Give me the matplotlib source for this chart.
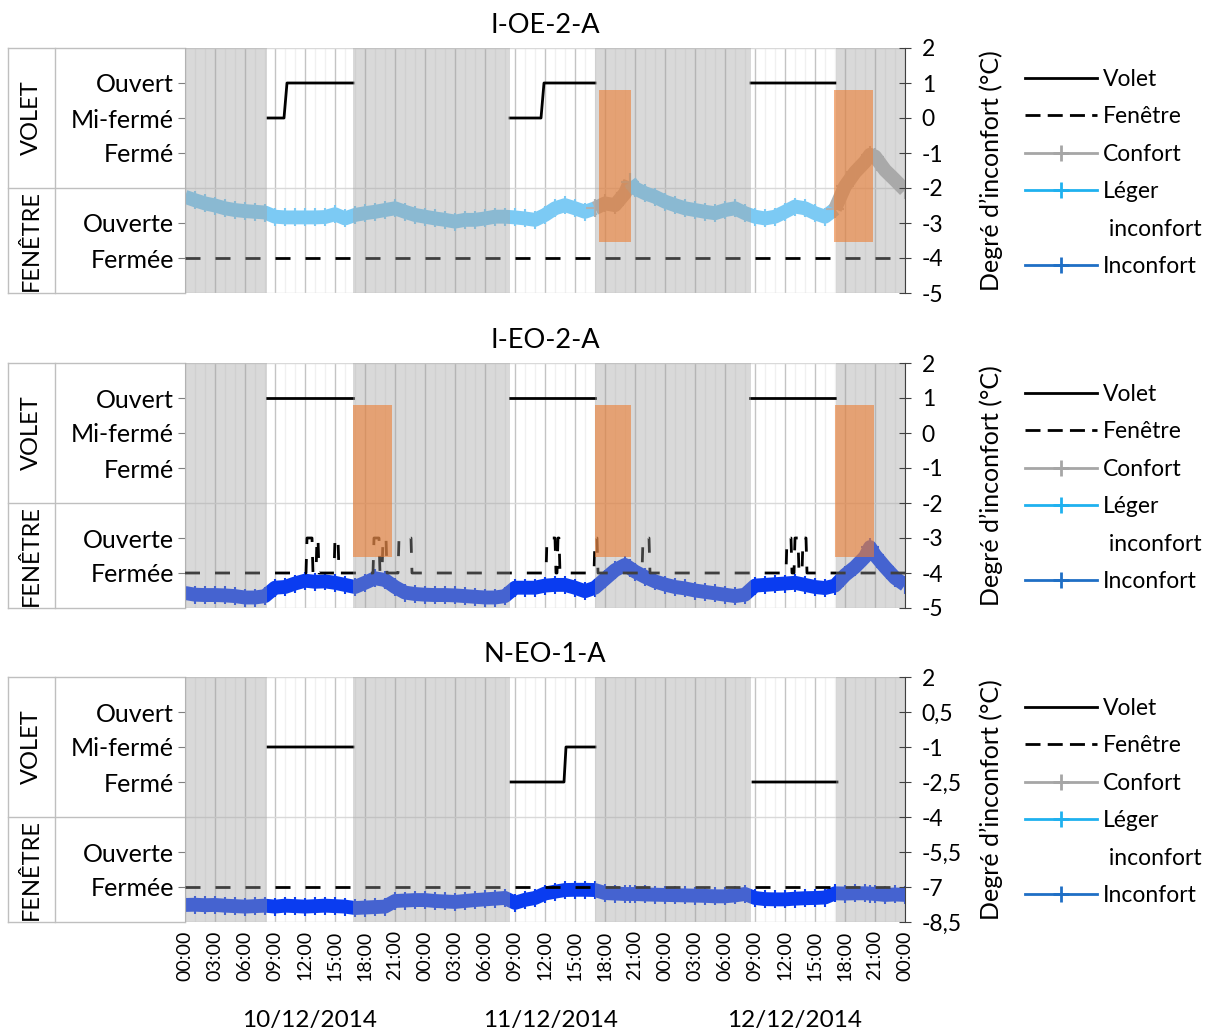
import matplotlib.pyplot as plt
from matplotlib.lines import Line2D
from matplotlib.ticker import MultipleLocator
import numpy as np

plt.rcParams['font.family'] = ['Lato', 'DejaVu Sans']

# heures depuis le 10/12/2014 00:00
hours = list(range(0, 45)) + [44.5] + list(range(45, 69)) + [68.5] + list(range(69, 73))

# ---- I-OE-2-A ----
temp_oe2a = [-2.25, -2.35, -2.44, -2.50, -2.58, -2.63, -2.66, -2.68, -2.70, -2.82,
             -2.84, -2.84, -2.84, -2.84, -2.83, -2.75, -2.87, -2.77, -2.72, -2.68,
             -2.63, -2.58, -2.68, -2.77, -2.82, -2.87, -2.91, -2.96, -2.91, -2.91,
             -2.87, -2.82, -2.82, -2.84, -2.87, -2.91, -2.77, -2.58, -2.49, -2.58,
             -2.68, -2.58, -2.44, -2.49, -2.15, -1.82,
             -2.01, -2.15, -2.25, -2.39, -2.49, -2.58, -2.63, -2.68, -2.72, -2.63,
             -2.58, -2.72, -2.82, -2.87, -2.82, -2.68, -2.53, -2.58, -2.72, -2.82,
             -2.60, -1.95, -1.55, -1.25, -1.05,
             -1.10, -1.49, -1.77, -2.06]
seg_oe2a = [(0, 41, 'leger'), (41, 44.5, 'confort'), (44.5, 65, 'leger'), (65, 72, 'confort')]
volet_t_oe2a = [8.3, 9.9, 10.2, 16.8, np.nan, 32.5, 35.6, 35.9, 41.0, np.nan, 56.6, 65.0]
volet_v_oe2a = [0, 0, 1, 1, np.nan, 0, 0, 1, 1, np.nan, 1, 1]
open_start_oe2a = []
open_end_oe2a = []
evt_start_oe2a = [41.4, 64.9]
evt_end_oe2a = [44.6, 68.8]

# ---- I-EO-2-A ----
temp_eo2a = [-4.57, -4.62, -4.63, -4.63, -4.64, -4.66, -4.70, -4.70, -4.66, -4.42,
             -4.40, -4.30, -4.22, -4.25, -4.24, -4.28, -4.34, -4.40, -4.28, -4.15,
             -4.20, -4.40, -4.56, -4.60, -4.62, -4.63, -4.63, -4.64, -4.66, -4.68,
             -4.70, -4.70, -4.66, -4.42, -4.42, -4.42, -4.36, -4.34, -4.34, -4.42,
             -4.52, -4.42, -4.17, -3.92, -3.77, -3.86,
             -3.96, -4.11, -4.24, -4.33, -4.40, -4.44, -4.50, -4.54, -4.58, -4.62,
             -4.66, -4.62, -4.36, -4.34, -4.32, -4.30, -4.28, -4.34, -4.40, -4.43,
             -4.36, -4.06, -3.83, -3.54, -3.26,
             -3.49, -3.83, -4.14, -4.34]
seg_eo2a = [(0, 72, 'inconfort')]
volet_t_eo2a = [8.2, 16.8, np.nan, 32.5, 41.0, np.nan, 56.5, 65.0]
volet_v_eo2a = [1, 1, np.nan, 1, 1, np.nan, 1, 1]
open_start_eo2a = [12.1, 13.1, 14.9, 18.8, 19.7, 21.3, 36.1, 37.2, 40.9, 45.7, 60.1, 60.9, 61.7]
open_end_eo2a = [12.7, 13.3, 15.3, 19.4, 20.1, 22.6, 37.0, 37.4, 41.2, 46.4, 60.6, 61.3, 62.1]
evt_start_eo2a = [16.8, 41.0, 65.0]
evt_end_eo2a = [20.7, 44.6, 68.9]

# ---- N-EO-1-A ----
temp_neo1a = [-7.77, -7.76, -7.78, -7.77, -7.80, -7.82, -7.84, -7.82, -7.80, -7.84,
              -7.80, -7.82, -7.84, -7.82, -7.80, -7.82, -7.84, -7.90, -7.88, -7.86,
              -7.84, -7.60, -7.58, -7.56, -7.56, -7.60, -7.62, -7.64, -7.60, -7.56,
              -7.53, -7.50, -7.47, -7.68, -7.55, -7.47, -7.28, -7.20, -7.13, -7.12,
              -7.12, -7.13, -7.26, -7.28, -7.30, -7.30,
              -7.30, -7.32, -7.33, -7.34, -7.35, -7.36, -7.37, -7.38, -7.40, -7.40,
              -7.36, -7.30, -7.47, -7.52, -7.53, -7.53, -7.50, -7.48, -7.47, -7.45,
              -7.27, -7.28, -7.27, -7.27, -7.28,
              -7.30, -7.34, -7.32, -7.34]
seg_neo1a = [(0, 72, 'inconfort')]
volet_t_neo1a = [8.3, 16.8, np.nan, 32.6, 37.9, 38.1, 41.0, np.nan, 56.8, 65.2]
volet_v_neo1a = [-1, -1, np.nan, -2.5, -2.5, -1, -1, np.nan, -2.5, -2.5]
open_start_neo1a = []
open_end_neo1a = []
evt_start_neo1a = []
evt_end_neo1a = []

night_start = [0, 16.8, 41.0, 65.1]
night_end = [8.2, 32.5, 56.6, 72]

ticks_a = [2, 1, 0, -1, -2, -3, -4, -5]
ticklab_a = ['2', '1', '0', '-1', '-2', '-3', '-4', '-5']
ticks_b = [2, 0.5, -1, -2.5, -4, -5.5, -7, -8.5]
ticklab_b = ['2', '0,5', '-1', '-2,5', '-4', '-5,5', '-7', '-8,5']

cat_labels = ['Ouvert', 'Mi-fermé', 'Fermé', 'Ouverte', 'Fermée']
cat_pos_a = [1, 0, -1, -3, -4]
cat_pos_b = [0.5, -1, -2.5, -5.5, -7]

xlabels = ['%02d:00' % (h % 24) for h in range(0, 73, 3)]
dates = ['10/12/2014', '11/12/2014', '12/12/2014']
date_pos = [12.5, 36.6, 61.0]

colors = {'confort': '#b0b0b0', 'leger': '#7ccaf4', 'inconfort': '#0a3cf0'}

fig = plt.figure(figsize=(12.07, 10.34), dpi=100)


def panel(bottom, title, ylim, ticks, ticklab, cat_pos, split, window_level,
          temp, segs, vt, vv, o_start, o_end, e_start, e_end, last=False):
    ax = fig.add_axes([185 / 1207, bottom, 720 / 1207, 245 / 1034])
    ax.set_xlim(0, 72)
    ax.set_ylim(*ylim)

    # bande de température (degré d'inconfort)
    for a, b, c in segs:
        hh = [h for h in hours if a <= h <= b]
        vv_ = [temp[i] for i, h in enumerate(hours) if a <= h <= b]
        ax.plot(hh, vv_, color=colors[c], lw=10, solid_capstyle='butt',
                marker='+', ms=13, mew=1.5, zorder=2)

    # fenêtre
    wt = [0]
    wv = [window_level]
    for s, e in zip(o_start, o_end):
        wt += [s, s + 0.1, e, e + 0.1]
        wv += [window_level, window_level + 1, window_level + 1, window_level]
    wt.append(72)
    wv.append(window_level)
    ax.plot(wt, wv, color='black', lw=2, dashes=(5.4, 5.4), zorder=3)

    # volet
    ax.plot(vt, vv, color='black', lw=2, zorder=3)

    # nuits
    for s, e in zip(night_start, night_end):
        ax.axvspan(s, e, color='#a0a0a0', alpha=0.4, lw=0, zorder=4)
    # évènements
    for s, e in zip(e_start, e_end):
        ax.fill_between([s, e], -3.55, 0.8, color='#ed7d31', alpha=0.6, lw=0, zorder=5)

    ax.xaxis.set_major_locator(MultipleLocator(3))
    ax.xaxis.set_minor_locator(MultipleLocator(1))
    ax.set_yticks(ticks, minor=True)
    ax.set_yticks(cat_pos)
    ax.set_yticklabels(cat_labels, fontsize=18)
    ax.grid(True, which='major', axis='x', color='#c4c4c4', lw=1)
    ax.grid(True, which='minor', axis='x', color='#f0f0f0', lw=1)
    ax.grid(True, which='minor', axis='y', color='#d9d9d9', lw=1)
    ax.set_axisbelow(True)
    ax.tick_params(axis='y', which='major', direction='out', length=5, color='#7f7f7f', pad=3)
    ax.tick_params(axis='y', which='minor', length=0)
    ax.tick_params(axis='x', which='both', length=0)
    for s in ['top', 'bottom', 'right']:
        ax.spines[s].set_visible(False)
    ax.spines['left'].set_color('#bfbfbf')

    if last:
        ax.set_xticks(range(0, 73, 3))
        ax.set_xticklabels(xlabels, rotation=90, fontsize=14)
        ax.tick_params(axis='x', pad=6)
        for d, p in zip(dates, date_pos):
            ax.text(p, -0.40, d, transform=ax.get_xaxis_transform(), ha='center',
                    va='center', fontsize=17.5)
    else:
        ax.tick_params(axis='x', labelbottom=False)

    # tableau à gauche
    tr = ax.get_yaxis_transform()
    x0, x1 = -177 / 720, -130 / 720
    kw = dict(transform=tr, clip_on=False, color='#bfbfbf', lw=1)
    ax.plot([x0, 0], [ylim[1], ylim[1]], **kw)
    ax.plot([x0, 0], [ylim[0], ylim[0]], **kw)
    ax.plot([x0, 0], [split, split], **kw)
    ax.plot([x0, x0], [ylim[0], ylim[1]], **kw)
    ax.plot([x1, x1], [ylim[0], ylim[1]], **kw)
    xm = (x0 + x1) / 2
    ax.text(xm, (ylim[1] + split) / 2, 'VOLET', transform=tr, rotation=90,
            ha='center', va='center', fontsize=17)
    ax.text(xm, (ylim[0] + split) / 2, 'FENÊTRE', transform=tr, rotation=90,
            ha='center', va='center', fontsize=17)

    ax.set_title(title, fontsize=19.5, pad=11)

    ax2 = ax.twinx()
    ax2.set_ylim(*ylim)
    ax2.set_yticks(ticks)
    ax2.set_yticklabels(ticklab, fontsize=16.5)
    ax2.tick_params(axis='y', direction='inout', length=8, color='#404040', pad=8)
    for s in ['top', 'bottom', 'left']:
        ax2.spines[s].set_visible(False)
    ax2.spines['right'].set_color('#404040')
    ax2.set_ylabel('Degré d\u2019inconfort (°C)', fontsize=18)
    ax2.yaxis.set_label_coords(1.104, 0.5)

    handles = [
        Line2D([], [], color='black', lw=2),
        Line2D([], [], color='black', lw=2, dashes=(5.4, 2.6)),
        Line2D([], [], color='#a6a6a6', lw=2, marker='+', ms=12, mew=2),
        Line2D([], [], color='#1fb1ef', lw=2, marker='+', ms=12, mew=2),
        Line2D([], [], color='none'),
        Line2D([], [], color='#1f6fc5', lw=2, marker='+', ms=12, mew=2),
    ]
    labels = ['Volet', 'Fenêtre', 'Confort', 'Léger', ' inconfort', 'Inconfort']
    ax2.legend(handles, labels, loc='upper left', bbox_to_anchor=(1.167, 0.915),
               frameon=False, fontsize=16.5, handlelength=3.15, handletextpad=0.25,
               labelspacing=0.72, borderpad=0, borderaxespad=0, numpoints=1)
    return ax


panel(1 - 293 / 1034, 'I-OE-2-A', (-5, 2), ticks_a, ticklab_a, cat_pos_a, -2, -4,
      temp_oe2a, seg_oe2a, volet_t_oe2a, volet_v_oe2a, open_start_oe2a, open_end_oe2a,
      evt_start_oe2a, evt_end_oe2a)
panel(1 - 608 / 1034, 'I-EO-2-A', (-5, 2), ticks_a, ticklab_a, cat_pos_a, -2, -4,
      temp_eo2a, seg_eo2a, volet_t_eo2a, volet_v_eo2a, open_start_eo2a, open_end_eo2a,
      evt_start_eo2a, evt_end_eo2a)
panel(1 - 922 / 1034, 'N-EO-1-A', (-8.5, 2), ticks_b, ticklab_b, cat_pos_b, -4, -7,
      temp_neo1a, seg_neo1a, volet_t_neo1a, volet_v_neo1a, open_start_neo1a, open_end_neo1a,
      evt_start_neo1a, evt_end_neo1a, last=True)

fig.savefig('out.png', dpi=100)
